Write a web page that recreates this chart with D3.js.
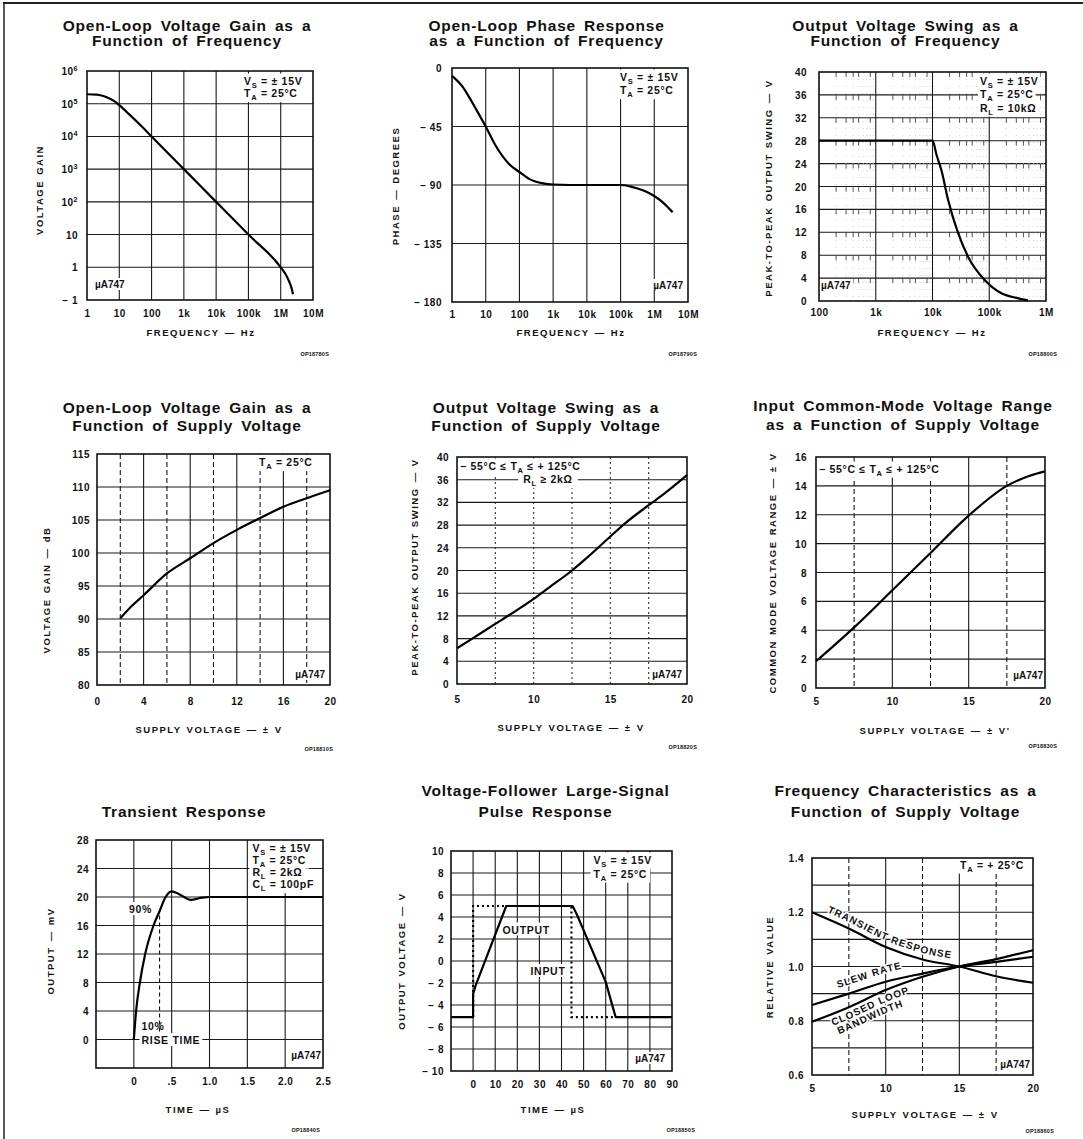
<!DOCTYPE html>
<html><head><meta charset="utf-8">
<script src="https://cdn.jsdelivr.net/npm/d3@7"></script>
<style>
body{margin:0;background:#fff}
svg{display:block;background:#fff}
text{font-family:"Liberation Sans",Arial,Helvetica,sans-serif;font-weight:bold;fill:#111}
.title{font-size:15.5px;letter-spacing:0.8px;word-spacing:3px}
.tick-l{font-size:10px;letter-spacing:0.5px}
.axt{font-size:9.5px;letter-spacing:1.5px;word-spacing:1px}
.note{font-size:10.5px;letter-spacing:0.7px}
.ua{font-size:10px}
.code{font-size:5.5px;letter-spacing:0.2px}
.cl{font-size:10px;letter-spacing:1px;stroke:#fff;stroke-width:3px;paint-order:stroke;stroke-linejoin:round}
.gl{stroke:#1a1a1a;stroke-width:1.1}
.gd{stroke:#1a1a1a;stroke-width:1.1;stroke-dasharray:5 3}
.gdot{stroke:#333;stroke-width:1.1;stroke-dasharray:2 3}
.comb{stroke:#444;stroke-width:0.9}
.faint{stroke:#c4c4c4;stroke-width:0.8;stroke-dasharray:1 6}
.frame{fill:none;stroke:#111;stroke-width:1.6}
.curve{fill:none;stroke:#000;stroke-width:2.2;stroke-linejoin:round}
.dotted{fill:none;stroke:#000;stroke-width:2.2;stroke-dasharray:2 3}
.mark{stroke:#111;stroke-width:1.1;stroke-dasharray:4 3}
</style></head><body>
<svg id="c" width="1083" height="1139"></svg>
<script>
// ================= DATA =================
// Panel 1: open-loop gain vs frequency
const olgFreq  = [1, 2, 3, 5, 7, 10, 20, 50, 100, 1e3, 1e4, 1e5, 1e6, 1.4e6, 1.8e6, 2.2e6, 2.4e6];
const olgGain  = [1.95e5, 1.9e5, 1.75e5, 1.45e5, 1.2e5, 9e4, 4.8e4, 2e4, 1e4, 1e3, 100, 10, 1, 0.62, 0.38, 0.22, 0.15];
const freqTicks7 = [1, 10, 100, 1e3, 1e4, 1e5, 1e6, 1e7];
const freqLabels7 = ["1", "10", "100", "1k", "10k", "100k", "1M", "10M"];
const olgYTicks = [0.1, 1, 10, 100, 1e3, 1e4, 1e5, 1e6];
const olgYLabels = ["− 1", "1", "10", "10^2", "10^3", "10^4", "10^5", "10^6"];

// Panel 2: open-loop phase vs frequency
const phFreq  = [1, 2, 3, 5, 10, 20, 50, 100, 200, 500, 1e3, 1e4, 1e5, 2e5, 5e5, 1e6, 2e6, 3.5e6];
const phDeg   = [-6, -14, -21, -31, -45, -60, -74, -80, -85.5, -88.8, -89.6, -90, -90, -91.2, -94.5, -98.5, -104.5, -111];
const phYTicks = [-180, -135, -90, -45, 0];
const phYLabels = ["− 180", "− 135", "− 90", "− 45", "0"];

// Panel 3: output swing vs frequency
const swFreq = [100, 1e4, 1.18e4, 1.44e4, 1.89e4, 2.84e4, 4.25e4, 8.3e4, 1.64e5, 3.0e5, 4.8e5];
const swVpp  = [28, 28, 25.5, 22.8, 17.6, 11.8, 7.7, 3.66, 1.34, 0.55, 0.1];
const swXTicks = [100, 1e3, 1e4, 1e5, 1e6];
const swXLabels = ["100", "1k", "10k", "100k", "1M"];
const swYTicks = [0, 4, 8, 12, 16, 20, 24, 28, 32, 36, 40];
const swYLabels = ["0", "4", "8", "12", "16", "20", "24", "28", "32", "36", "40"];

// Panel 4: open-loop gain vs supply
const gsSupply = [2, 3, 4, 6, 8, 10, 12, 14, 16, 18, 20];
const gsDb     = [90.1, 92, 93.6, 96.9, 99.2, 101.5, 103.5, 105.3, 107, 108.3, 109.5];
const gsXTicks = [0, 4, 8, 12, 16, 20];
const gsXLabels = ["0", "4", "8", "12", "16", "20"];
const gsYTicks = [80, 85, 90, 95, 100, 105, 110, 115];
const gsYLabels = ["80", "85", "90", "95", "100", "105", "110", "115"];

// Panel 5: output swing vs supply
const osSupply = [5, 6, 7.5, 8.5, 10, 11, 12.5, 13.5, 15, 16, 17.5, 18.5, 20];
const osVpp    = [6.3, 8, 10.6, 12.3, 15, 17, 20, 22.3, 26, 28.4, 31.5, 33.5, 36.8];
const supXTicks = [5, 10, 15, 20];
const supXLabels = ["5", "10", "15", "20"];

// Panel 6: common-mode range vs supply
const cmSupply = [5, 7.5, 10, 12.5, 15, 17.5, 19, 20];
const cmRange  = [1.85, 4.2, 6.77, 9.35, 11.94, 14.0, 14.7, 15.0];
const cmYTicks = [0, 2, 4, 6, 8, 10, 12, 14, 16];
const cmYLabels = ["0", "2", "4", "6", "8", "10", "12", "14", "16"];

// Panel 7: transient response
const trTime = [0, 0.03, 0.08, 0.15, 0.26, 0.34, 0.42, 0.5, 0.6, 0.75, 0.9, 1.0, 2.5];
const trOut  = [0, 4, 8, 12, 16, 18, 20, 20.8, 20.4, 19.6, 19.9, 20, 20];
const trXTicks = [0, 0.5, 1, 1.5, 2, 2.5];
const trXLabels = ["0", ".5", "1.0", "1.5", "2.0", "2.5"];
const trYTicks = [0, 4, 8, 12, 16, 20, 24, 28];
const trYLabels = ["0", "4", "8", "12", "16", "20", "24", "28"];
const riseMarkT = 0.34, riseMarkRange = [0.8, 17.4];

// Panel 8: large-signal pulse response
const pOutTime = [-10, 0, 0, 1.2, 15, 45, 46.8, 60, 64.5, 90];
const pOutV    = [-5.1, -5.1, -3, -2.2, 5, 5, 4.3, -1.9, -5.1, -5.1];
const pInTime  = [0, 0, 44.5, 44.5, 65];
const pInV     = [-5.1, 5, 5, -5.1, -5.1];
const pXTicks = [0, 10, 20, 30, 40, 50, 60, 70, 80, 90];
const pXLabels = ["0", "10", "20", "30", "40", "50", "60", "70", "80", "90"];
const pYTicks = [-10, -8, -6, -4, -2, 0, 2, 4, 6, 8, 10];
const pYLabels = ["− 10", "− 8", "− 6", "− 4", "− 2", "0", "2", "4", "6", "8", "10"];

// Panel 9: frequency characteristics vs supply
const fcSupply   = [5, 7.5, 10, 12.5, 15, 17.5, 20];
const fcTransient = [1.2, 1.14, 1.072, 1.026, 1.0, 0.964, 0.94];
const fcSlew      = [0.858, 0.90, 0.944, 0.974, 1.0, 1.017, 1.036];
const fcBandwidth = [0.796, 0.85, 0.913, 0.962, 1.0, 1.027, 1.06];
const fcYTicks = [0.6, 0.8, 1.0, 1.2, 1.4];
const fcYLabels = ["0.6", "0.8", "1.0", "1.2", "1.4"];

// ================= DRAWING =================
const svg = d3.select('#c');
const root = svg.append('g');
const zip = (a, b) => a.map((v, i) => [v, b[i]]);

function rich(sel, str, fs) {
  sel.text(null);
  const parts = String(str).split(/([_^].)/);
  let cur = 0;
  parts.forEach(p => {
    if (!p) return;
    let target = 0, size = null, txt = p;
    if (p.length === 2 && p[0] === '_') { target = fs * 0.3; size = fs * 0.72; txt = p[1]; }
    else if (p.length === 2 && p[0] === '^') { target = -fs * 0.42; size = fs * 0.72; txt = p[1]; }
    const t = sel.append('tspan').text(txt);
    if (target !== cur) t.attr('dy', target - cur);
    if (size) t.style('font-size', size + 'px');
    cur = target;
  });
}

function note(bgLayer, txLayer, n) {
  const fs = n.fs || 10.5;
  const t = txLayer.append('text').attr('class', n.cls || 'note')
    .attr('x', n.x).attr('y', n.y).attr('text-anchor', n.anchor || 'start')
    .style('font-size', fs + 'px');
  rich(t, n.text, fs);
  if (n.bg !== false) {
    const b = t.node().getBBox();
    const p = n.pad == null ? 2 : n.pad;
    bgLayer.append('rect').attr('x', b.x - p).attr('y', b.y - 1)
      .attr('width', b.width + 2 * p).attr('height', b.height + 1).attr('fill', '#fff');
  }
  return t;
}

function panel(o) {
  const g = root.append('g');
  const [x0, y0, x1, y1] = o.box;
  const x = o.x.copy().range([x0, x1]);
  const y = o.y.copy().range([y1, y0]);
  const grid = g.append('g');
  (o.vGrid || []).forEach(v => grid.append('line').attr('class', 'gl').attr('x1', x(v)).attr('x2', x(v)).attr('y1', y0).attr('y2', y1));
  (o.vDash || []).forEach(v => grid.append('line').attr('class', o.dashCls || 'gd').attr('x1', x(v)).attr('x2', x(v)).attr('y1', y0).attr('y2', y1));
  (o.hGrid || []).forEach(v => grid.append('line').attr('class', 'gl').attr('x1', x0).attr('x2', x1).attr('y1', y(v)).attr('y2', y(v)));
  if (o.extra) o.extra(grid, x, y);

  // x axis labels
  const xa = g.append('g').attr('transform', `translate(0,${y1})`)
    .call(d3.axisBottom(x).tickValues(o.xTicks).tickFormat((d, i) => o.xLabels[i]).tickSize(0));
  xa.select('.domain').remove();
  xa.selectAll('text').attr('class', 'tick-l').attr('y', o.xLabelY - y1).attr('dy', 0)
    .each(function (d, i) { rich(d3.select(this), o.xLabels[i], 10); });
  // y axis labels
  const ya = g.append('g').attr('transform', `translate(${x0},0)`)
    .call(d3.axisLeft(y).tickValues(o.yTicks).tickFormat((d, i) => o.yLabels[i]).tickSize(0).tickPadding(x0 - o.yLabelX));
  ya.select('.domain').remove();
  ya.selectAll('text').attr('class', 'tick-l').attr('dy', '0.35em')
    .each(function (d, i) { rich(d3.select(this), o.yLabels[i], 10); });

  const bgLayer = g.append('g'), txLayer = g.append('g');
  (o.notes || []).forEach(n => note(bgLayer, txLayer, n));
  if (o.labels) o.labels(g, x, y);

  g.append('rect').attr('class', 'frame').attr('x', x0).attr('y', y0).attr('width', x1 - x0).attr('height', y1 - y0);

  (o.series || []).forEach(s => {
    g.append('path').datum(s.data).attr('class', s.cls || 'curve')
      .attr('d', d3.line().x(d => x(d[0])).y(d => y(d[1])).curve(s.curve || d3.curveMonotoneX));
  });

  // titles
  o.title.forEach((t, i) => g.append('text').attr('class', 'title').attr('text-anchor', 'middle')
    .attr('x', o.titleX).attr('y', o.titleY[i]).text(t));
  // axis titles
  const xt = g.append('text').attr('class', 'axt').attr('text-anchor', 'middle')
    .attr('x', o.xTitlePos[0]).attr('y', o.xTitlePos[1]);
  rich(xt, o.xTitle, 9.5);
  g.append('text').attr('class', 'axt').attr('text-anchor', 'middle')
    .attr('transform', `translate(${o.yTitlePos[0]},${o.yTitlePos[1]}) rotate(-90)`)
    .attr('dy', '0.35em').text(o.yTitle);
  // part code
  g.append('text').attr('class', 'code').attr('text-anchor', 'end')
    .attr('x', o.codePos[0]).attr('y', o.codePos[1]).text(o.code);
  return { g, x, y };
}

// outer frame (top and left edges of the page)
svg.append('line').attr('x1', 3).attr('x2', 1083).attr('y1', 3).attr('y2', 3).attr('stroke', '#222').attr('stroke-width', 2);
svg.append('line').attr('x1', 4).attr('x2', 4).attr('y1', 3).attr('y2', 1139).attr('stroke', '#222').attr('stroke-width', 1.5);

const ua = (x, y, anchor) => ({ x, y, text: 'µA747', cls: 'ua', fs: 10, anchor: anchor || 'end' });

// ---- Panel 1
panel({
  box: [87, 71, 313, 300],
  x: d3.scaleLog().domain([1, 1e7]), y: d3.scaleLog().domain([0.1, 1e6]),
  vGrid: freqTicks7.slice(1, -1), hGrid: olgYTicks.slice(1, -1),
  xTicks: freqTicks7, xLabels: freqLabels7, xLabelY: 317,
  yTicks: olgYTicks, yLabels: olgYLabels, yLabelX: 78,
  notes: [
    { x: 244, y: 84.5, text: 'V_S = ± 15V' },
    { x: 244, y: 97, text: 'T_A = 25°C' },
    ua(95, 288, 'start')
  ],
  series: [{ data: zip(olgFreq, olgGain) }],
  title: ['Open-Loop Voltage Gain as a', 'Function of Frequency'], titleX: 187, titleY: [31, 46],
  xTitle: 'FREQUENCY — Hz', xTitlePos: [201, 336],
  yTitle: 'VOLTAGE GAIN', yTitlePos: [40, 190],
  code: 'OP18780S', codePos: [329, 356]
});

// ---- Panel 2
panel({
  box: [452, 68, 688, 302],
  x: d3.scaleLog().domain([1, 1e7]), y: d3.scaleLinear().domain([-180, 0]),
  vGrid: freqTicks7.slice(1, -1), hGrid: [-135, -90, -45],
  xTicks: freqTicks7, xLabels: freqLabels7, xLabelY: 318,
  yTicks: phYTicks, yLabels: phYLabels, yLabelX: 442,
  notes: [
    { x: 620, y: 80.5, text: 'V_S = ± 15V' },
    { x: 620, y: 94, text: 'T_A = 25°C' },
    ua(683, 289)
  ],
  series: [{ data: zip(phFreq, phDeg) }],
  title: ['Open-Loop Phase Response', 'as a Function of Frequency'], titleX: 546.5, titleY: [31, 46],
  xTitle: 'FREQUENCY — Hz', xTitlePos: [571, 336],
  yTitle: 'PHASE — DEGREES', yTitlePos: [396, 186],
  code: 'OP18790S', codePos: [697, 356]
});

// ---- Panel 3
panel({
  box: [819, 72, 1046, 301],
  x: d3.scaleLog().domain([100, 1e6]), y: d3.scaleLinear().domain([0, 40]),
  vGrid: [1e3, 1e4, 1e5], hGrid: swYTicks.slice(1, -1),
  extra: (gr, x, y) => {
    const decades = [100, 1e3, 1e4, 1e5];
    decades.forEach(d => [2, 3, 4, 5, 6, 7, 8, 9].forEach(m => {
      gr.append('line').attr('class', 'faint').attr('x1', x(d * m)).attr('x2', x(d * m)).attr('y1', 72).attr('y2', 301);
      if ([2, 3, 4, 5, 8].includes(m)) swYTicks.slice(1).forEach(v => gr.append('line').attr('class', 'comb')
        .attr('x1', x(d * m)).attr('x2', x(d * m)).attr('y1', y(v)).attr('y2', y(v) + 5));
    }));
  },
  xTicks: swXTicks, xLabels: swXLabels, xLabelY: 316,
  yTicks: swYTicks, yLabels: swYLabels, yLabelX: 807,
  notes: [
    { x: 980, y: 84.5, text: 'V_S = ± 15V' },
    { x: 980, y: 98, text: 'T_A = 25°C' },
    { x: 980, y: 111.5, text: 'R_L = 10kΩ' },
    ua(821, 289, 'start')
  ],
  series: [{ data: zip(swFreq, swVpp) }],
  title: ['Output Voltage Swing as a', 'Function of Frequency'], titleX: 905.5, titleY: [31, 46],
  xTitle: 'FREQUENCY — Hz', xTitlePos: [932, 336],
  yTitle: 'PEAK-TO-PEAK OUTPUT SWING — V', yTitlePos: [769, 188],
  code: 'OP18800S', codePos: [1057, 356]
});

// ---- Panel 4
panel({
  box: [97, 454, 330, 685],
  x: d3.scaleLinear().domain([0, 20]), y: d3.scaleLinear().domain([80, 115]),
  vGrid: [4, 8, 12, 16], vDash: [2, 6, 10, 14, 18], hGrid: gsYTicks.slice(1, -1),
  xTicks: gsXTicks, xLabels: gsXLabels, xLabelY: 705,
  yTicks: gsYTicks, yLabels: gsYLabels, yLabelX: 90,
  notes: [
    { x: 259, y: 466, text: 'T_A = 25°C' },
    ua(325, 678)
  ],
  series: [{ data: zip(gsSupply, gsDb) }],
  title: ['Open-Loop Voltage Gain as a', 'Function of Supply Voltage'], titleX: 187, titleY: [413, 431],
  xTitle: 'SUPPLY VOLTAGE — ± V', xTitlePos: [209, 733],
  yTitle: 'VOLTAGE GAIN — dB', yTitlePos: [47, 590],
  code: 'OP18810S', codePos: [333, 751]
});

// ---- Panel 5
panel({
  box: [457, 457, 687, 684],
  x: d3.scaleLinear().domain([5, 20]), y: d3.scaleLinear().domain([0, 40]),
  vDash: [7.5, 10, 12.5, 15, 17.5], dashCls: 'gdot', hGrid: swYTicks.slice(1, -1),
  xTicks: supXTicks, xLabels: supXLabels, xLabelY: 703,
  yTicks: swYTicks, yLabels: swYLabels, yLabelX: 449,
  notes: [
    { x: 460, y: 469.5, text: '− 55°C ≤ T_A ≤ + 125°C' },
    { x: 548, y: 483, text: 'R_L ≥ 2kΩ', anchor: 'middle', pad: 5 },
    ua(682, 678)
  ],
  series: [{ data: zip(osSupply, osVpp) }],
  title: ['Output Voltage Swing as a', 'Function of Supply Voltage'], titleX: 546, titleY: [413, 431],
  xTitle: 'SUPPLY VOLTAGE — ± V', xTitlePos: [571, 731],
  yTitle: 'PEAK-TO-PEAK OUTPUT SWING — V', yTitlePos: [415, 567],
  code: 'OP18820S', codePos: [697, 749]
});

// ---- Panel 6
panel({
  box: [816, 457, 1045, 688],
  x: d3.scaleLinear().domain([5, 20]), y: d3.scaleLinear().domain([0, 16]),
  vGrid: [10, 15], vDash: [7.5, 12.5, 17.5], hGrid: cmYTicks.slice(1, -1),
  xTicks: supXTicks, xLabels: supXLabels, xLabelY: 705,
  yTicks: cmYTicks, yLabels: cmYLabels, yLabelX: 807,
  notes: [
    { x: 819, y: 472.5, text: '− 55°C ≤ T_A ≤ + 125°C', pad: 4 },
    ua(1043, 679)
  ],
  series: [{ data: zip(cmSupply, cmRange) }],
  title: ['Input Common-Mode Voltage Range', 'as a Function of Supply Voltage'], titleX: 903, titleY: [411, 430],
  xTitle: "SUPPLY VOLTAGE — ± V'", xTitlePos: [935, 734],
  yTitle: 'COMMON MODE VOLTAGE RANGE — ± V', yTitlePos: [773, 573],
  code: 'OP18830S', codePos: [1057, 748]
});

// ---- Panel 7
panel({
  box: [96, 840, 323, 1068],
  x: d3.scaleLinear().domain([-0.5, 2.5]), y: d3.scaleLinear().domain([-4, 28]),
  vGrid: [0, 0.5, 1, 1.5, 2], hGrid: [0, 4, 8, 12, 16, 20, 24],
  xTicks: trXTicks, xLabels: trXLabels, xLabelY: 1085,
  yTicks: trYTicks, yLabels: trYLabels, yLabelX: 89,
  notes: [
    { x: 252.5, y: 851.5, text: 'V_S = ± 15V', pad: 3 },
    { x: 252.5, y: 863.5, text: 'T_A = 25°C', pad: 3 },
    { x: 252.5, y: 875.5, text: 'R_L = 2kΩ', pad: 3 },
    { x: 252.5, y: 888, text: 'C_L = 100pF', pad: 3 },
    { x: 129, y: 913, text: '90%' },
    { x: 141.5, y: 1030, text: '10%' },
    { x: 141.5, y: 1044, text: 'RISE TIME' },
    ua(321, 1059)
  ],
  labels: (g, x, y) => {
    g.append('line').attr('class', 'mark').attr('x1', x(riseMarkT)).attr('x2', x(riseMarkT))
      .attr('y1', y(riseMarkRange[1])).attr('y2', y(riseMarkRange[0]));
  },
  series: [{ data: zip(trTime, trOut) }],
  title: ['Transient Response'], titleX: 184, titleY: [816.5],
  xTitle: 'TIME — µS', xTitlePos: [198, 1113],
  yTitle: 'OUTPUT — mV', yTitlePos: [51, 951],
  code: 'OP18840S', codePos: [320, 1132]
});

// ---- Panel 8
panel({
  box: [451, 851, 672, 1071],
  x: d3.scaleLinear().domain([-10, 90]), y: d3.scaleLinear().domain([-10, 10]),
  vGrid: [0, 10, 20, 30, 40, 50, 60, 70, 80], hGrid: pYTicks.slice(1, -1),
  xTicks: pXTicks, xLabels: pXLabels, xLabelY: 1088,
  yTicks: pYTicks, yLabels: pYLabels, yLabelX: 444,
  notes: [
    { x: 593.5, y: 863.5, text: 'V_S = ± 15V', pad: 3 },
    { x: 593.5, y: 877.5, text: 'T_A = 25°C', pad: 3 },
    { x: 502.5, y: 933.5, text: 'OUTPUT' },
    { x: 530.5, y: 975, text: 'INPUT' },
    ua(665, 1062)
  ],
  series: [
    { data: zip(pInTime, pInV), cls: 'dotted', curve: d3.curveLinear },
    { data: zip(pOutTime, pOutV), curve: d3.curveLinear }
  ],
  title: ['Voltage-Follower Large-Signal', 'Pulse Response'], titleX: 545.5, titleY: [796, 816.5],
  xTitle: 'TIME — µS', xTitlePos: [553, 1113],
  yTitle: 'OUTPUT VOLTAGE — V', yTitlePos: [402, 961],
  code: 'OP18850S', codePos: [695, 1132]
});

// ---- Panel 9
panel({
  box: [812, 858, 1033, 1075],
  x: d3.scaleLinear().domain([5, 20]), y: d3.scaleLinear().domain([0.6, 1.4]),
  vGrid: [10, 15], vDash: [7.5, 12.5, 17.5], hGrid: [0.7, 0.8, 0.9, 1.0, 1.1, 1.2, 1.3],
  xTicks: supXTicks, xLabels: supXLabels, xLabelY: 1092,
  yTicks: fcYTicks, yLabels: fcYLabels, yLabelX: 804,
  notes: [
    { x: 960, y: 868.5, text: 'T_A = + 25°C', pad: 3 },
    ua(1030, 1068)
  ],
  labels: (g, x, y) => {
    const defs = [
      { vals: fcTransient, off: -6.5, txt: 'TRANSIENT RESPONSE', startX: 827 },
      { vals: fcSlew, off: -9, txt: 'SLEW RATE', startX: 838 },
      { vals: fcBandwidth, off: 12, txt: 'CLOSED LOOP', startX: 833 },
      { vals: fcBandwidth, off: 23, txt: 'BANDWIDTH', startX: 839 }
    ];
    defs.forEach((d, i) => {
      const id = 'fcp' + i;
      const p = g.append('path').attr('id', id).attr('fill', 'none').attr('stroke', 'none')
        .attr('d', d3.line().x(v => x(v[0])).y(v => y(v[1]) + d.off).curve(d3.curveMonotoneX)(zip(fcSupply, d.vals)));
      const node = p.node();
      const L = node.getTotalLength();
      let lo = 0, hi = L;
      for (let k = 0; k < 30; k++) { const m = (lo + hi) / 2; if (node.getPointAtLength(m).x < d.startX) lo = m; else hi = m; }
      g.append('text').attr('class', 'cl').append('textPath').attr('href', '#' + id)
        .attr('startOffset', lo).text(d.txt);
    });
  },
  series: [
    { data: zip(fcSupply, fcTransient) },
    { data: zip(fcSupply, fcSlew) },
    { data: zip(fcSupply, fcBandwidth) }
  ],
  title: ['Frequency Characteristics as a', 'Function of Supply Voltage'], titleX: 905.5, titleY: [796, 816.5],
  xTitle: 'SUPPLY VOLTAGE — ± V', xTitlePos: [925, 1118],
  yTitle: 'RELATIVE VALUE', yTitlePos: [770, 967],
  code: 'OP18860S', codePos: [1054, 1133]
});
</script>
</body></html>
